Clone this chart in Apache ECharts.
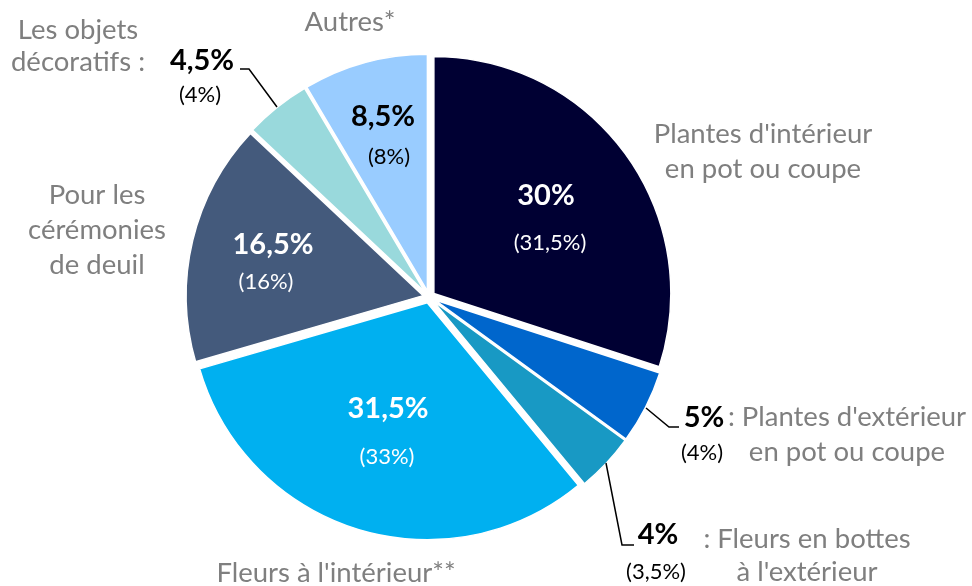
<!DOCTYPE html>
<html>
<head>
<meta charset="utf-8">
<script src="https://cdn.jsdelivr.net/npm/echarts@6/dist/echarts.min.js"></script>
<style>
  html, body { margin: 0; padding: 0; background: #fff; }
  #chart { width: 972px; height: 586px; }
</style>
</head>
<body>
<div id="chart"></div>
<script>
// données (part en %, année en cours et entre parenthèses l'année précédente)
const categories = [
  "Plantes d'intérieur\nen pot ou coupe",
  ": Plantes d'extérieur\nen pot ou coupe",
  ": Fleurs en bottes\nà l'extérieur",
  "Fleurs à l'intérieur**",
  "Pour les\ncérémonies\nde deuil",
  "Les objets\ndécoratifs :",
  "Autres*"
]
const shares = [30, 5, 4, 31.5, 16.5, 4.5, 8.5]
const sharesPrev = [31.5, 4, 3.5, 33, 16, 4, 8]

// style
const colors = ['#000033', '#0066cc', '#1899c4', '#00b0f0', '#445a7c', '#99d9dc', '#99ccff']
const pctColor = ['#fff', '#000', '#000', '#fff', '#fff', '#000', '#000']
// position des étiquettes : [x, y] de la part puis [x, y] de l'année précédente
const labelPos = [
  [546, 196, 550, 243], [704, 418, 702, 453], [658, 535, 656, 572], [388, 409, 387, 457],
  [273, 245, 266, 282], [202, 61, 200, 95], [383, 117, 389, 157]
]
const leaderLines = {
  1: [[646, 408], [669, 427], [679, 427]],
  2: [[606, 463], [622, 545], [634, 545]],
  5: [[277, 107], [249, 69], [240, 69]]
}
// position des noms [x, y centre du bloc, interligne]
const namePos = [
  [763, 152, 35], [847, 435, 35], [807, 556, 33], [336, 573, 35],
  [97, 230, 35], [78, 46, 32], [350, 22, 35]
]

const fmt = v => String(v).replace('.', ',') + '%'
const FONT = 'Lato'

const data = shares.map((v, i) => ({
  name: categories[i].replace(/\n/g, ' '),
  value: v,
  selected: true,
  itemStyle: { color: colors[i] }
}))

const graphics = []
categories.forEach((c, i) => {
  graphics.push({
    type: 'text', x: namePos[i][0], y: namePos[i][1], silent: true,
    style: {
      text: c, fontFamily: FONT, fontSize: 27.5, fill: '#7f7f7f',
      align: 'center', verticalAlign: 'middle', lineHeight: namePos[i][2]
    }
  })
})
shares.forEach((v, i) => {
  const p = labelPos[i]
  graphics.push({
    type: 'text', x: p[0], y: p[1], silent: true, z: 10,
    style: {
      text: fmt(v), fontFamily: FONT, fontWeight: 'bold', fontSize: 29,
      fill: pctColor[i], align: 'center', verticalAlign: 'middle'
    }
  })
  graphics.push({
    type: 'text', x: p[2], y: p[3], silent: true, z: 10,
    style: {
      text: '(' + fmt(sharesPrev[i]) + ')', fontFamily: FONT, fontSize: 22,
      fill: pctColor[i], align: 'center', verticalAlign: 'middle'
    }
  })
})
Object.keys(leaderLines).forEach(k => {
  graphics.push({
    type: 'polyline', silent: true, z: 10,
    shape: { points: leaderLines[k] },
    style: { stroke: '#000', lineWidth: 1.5, fill: null }
  })
})

const chart = echarts.init(document.getElementById('chart'))
chart.setOption({
  animation: false,
  series: [{
    type: 'pie',
    center: [429, 297],
    radius: 237,
    startAngle: 90,
    clockwise: true,
    selectedMode: 'multiple',
    selectedOffset: 6,
    itemStyle: { borderColor: '#fff', borderWidth: 1.5 },
    label: { show: false },
    labelLine: { show: false },
    emphasis: { disabled: true },
    data: data
  }],
  graphic: graphics
})
</script>
</body>
</html>
